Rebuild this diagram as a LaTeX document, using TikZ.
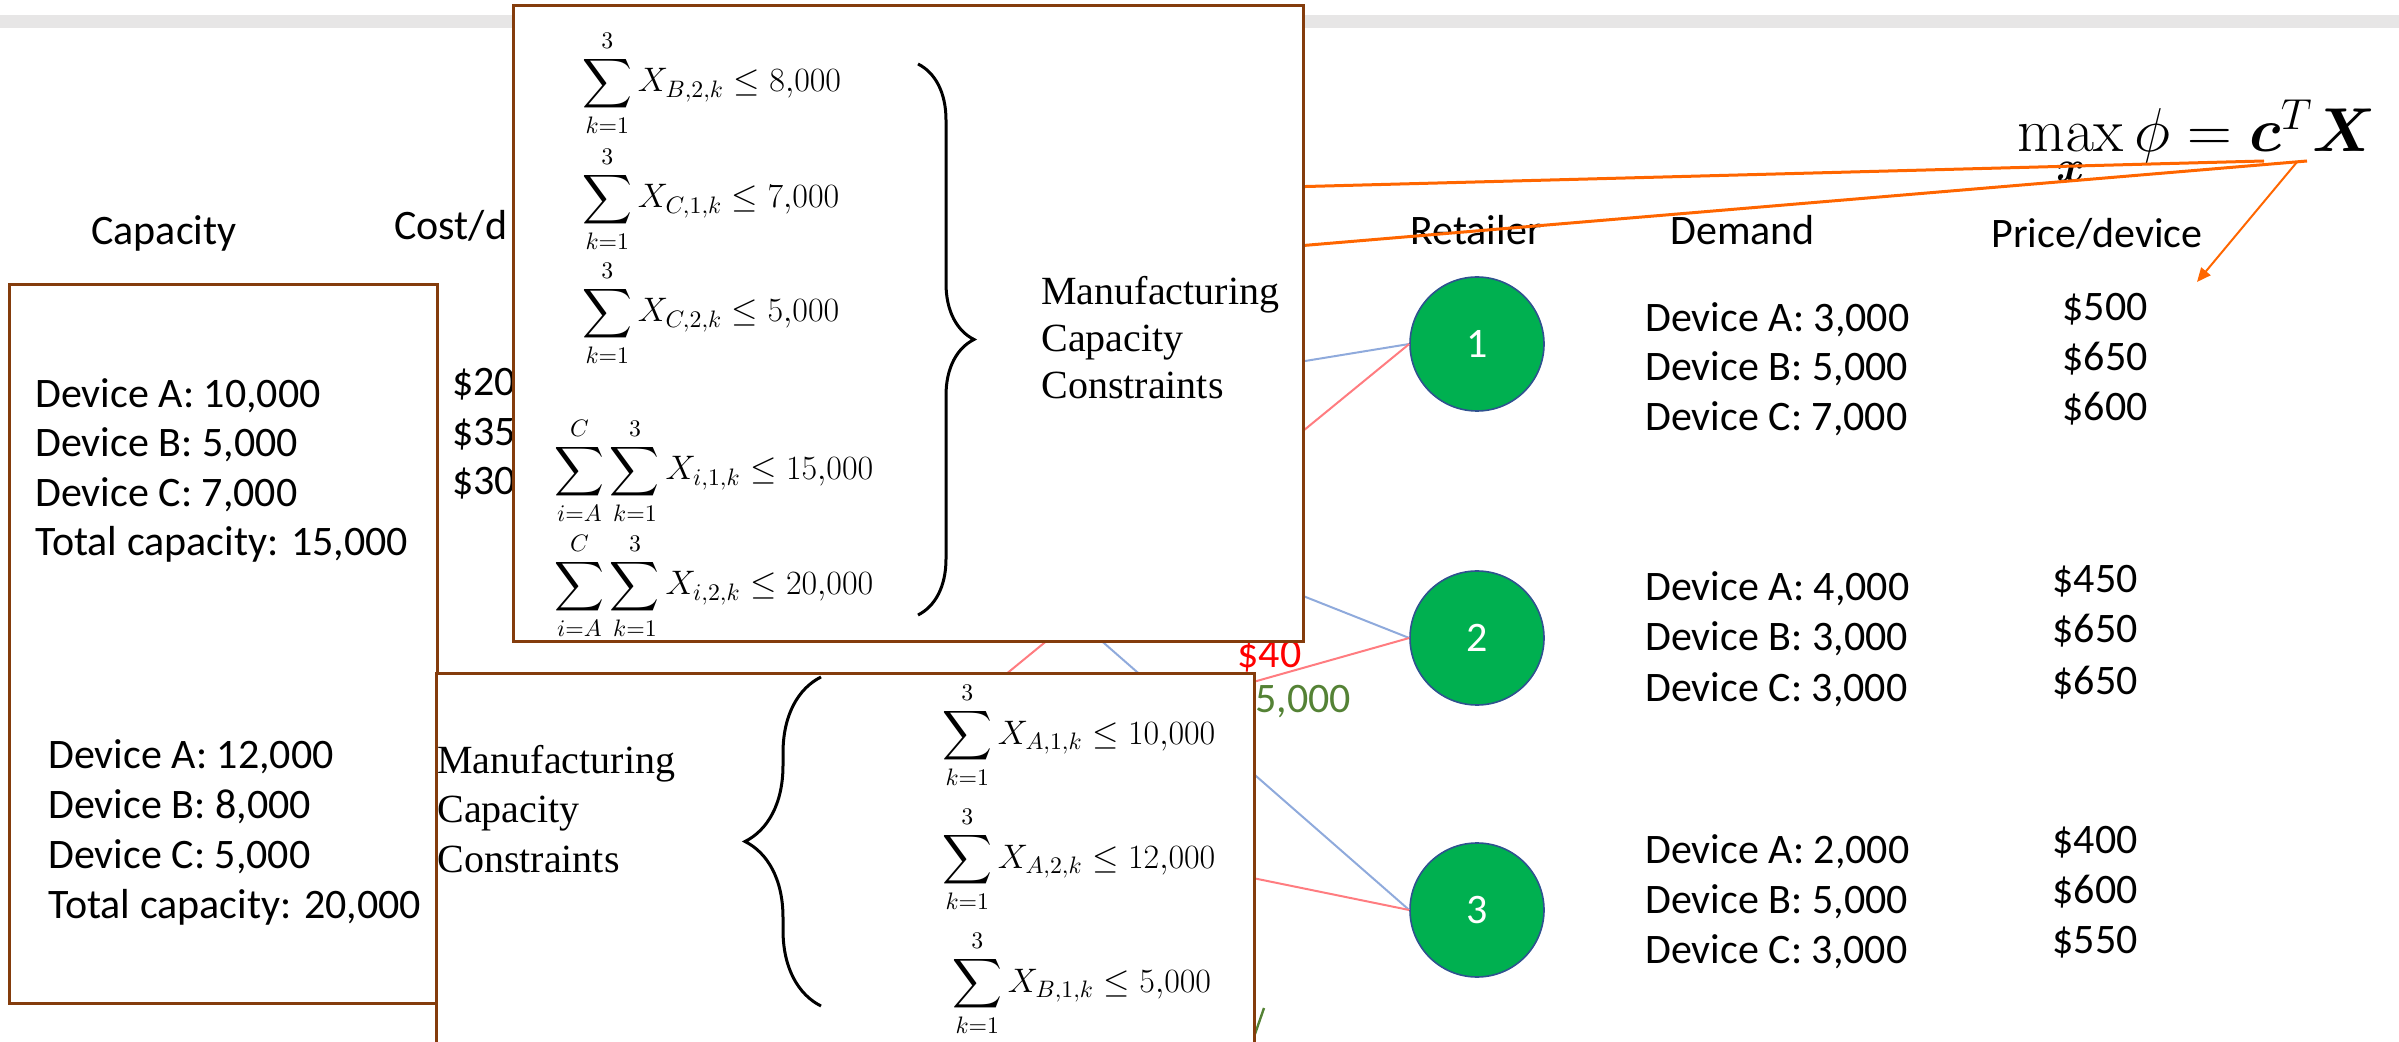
\documentclass[tikz,border=0pt]{standalone}
\usepackage{fix-cm}
\usepackage{amsmath,bm}
\usepackage[no-math]{fontspec}
\newfontfamily\calib{Carlito}
\newfontfamily\tnr{Liberation Serif}
\usetikzlibrary{arrows.meta,decorations.pathreplacing}
\definecolor{boxbrown}{HTML}{843C0C}
\definecolor{nodegreen}{HTML}{00B050}
\definecolor{nodeedge}{HTML}{2F528F}
\definecolor{flowblue}{HTML}{8FAADC}
\definecolor{flowred}{HTML}{FF7C80}
\definecolor{objorange}{HTML}{FF6600}
\definecolor{labgreen}{HTML}{548235}
\definecolor{bandgray}{HTML}{E7E6E6}

\begin{document}
\begin{tikzpicture}[
  x=0.5pt, y=-0.5pt,
  lab/.style={font=\calib\fontsize{21}{25}\selectfont, inner sep=0pt, anchor=base west},
  cons/.style={font=\fontsize{17}{20}\selectfont, inner sep=0pt, anchor=base west},
  serif/.style={font=\tnr\fontsize{20}{24}\selectfont, inner sep=0pt, anchor=base west},
  panel/.style={draw=boxbrown, line width=1.5pt, fill=white, inner sep=0pt,
                anchor=north west},
  retailer/.style={circle, fill=nodegreen, draw=nodeedge, line width=0.8pt,
                   minimum size=67pt, inner sep=0pt, text=white,
                   font=\calib\fontsize{21}{25}\selectfont},
  blueflow/.style={flowblue, line width=1pt},
  redflow/.style={flowred, line width=1pt},
  objline/.style={objorange, line width=1.5pt},
  curly/.style={decorate, decoration={brace, amplitude=#1}, line width=1.5pt}
]
  \useasboundingbox (0,0) rectangle (2399,1042);
  \clip (0,0) rectangle (2399,1042);
  \def\xdem{1645} \def\xprice{2062}
  \fill[bandgray] (0,15) rectangle (2399,28);

  % headers
  \node[lab] (hdrcap) at (91,245) {Capacity};
  \node[lab] (hdrcost) at (394,240) {Cost/d};
  \node[lab] (hdrret) at (1410,245) {Retailer};
  \node[lab] (hdrdem) at (1670,245) {Demand};
  \node[lab] (hdrprice) at (1991,248) {Price/device};

  % costs (mostly hidden)
  \node[lab] (costA) at (452,396) {\$20};
  \node[lab] (costB) at (452,446) {\$35};
  \node[lab] (costC) at (452,495) {\$30};

  % retailers
  \node[retailer] (n1) at (1477,344) {1};
  \node[retailer] (n2) at (1477,638) {2};
  \node[retailer] (n3) at (1477,910) {3};

  % flows from the plants
  \coordinate (b1) at (1250,370);
  \coordinate (r1) at (889,770);
  \coordinate (b2) at (1250,575);
  \coordinate (r2) at (1200,697);
  \coordinate (b3) at (1009,560);
  \coordinate (r3) at (1150,857);
  \draw[blueflow] (b1) -- (n1.west);
  \draw[redflow] (r1) -- (n1.west);
  \draw[blueflow] (b2) -- (n2.west);
  \draw[redflow] (r2) -- (n2.west);
  \draw[blueflow] (b3) -- (n3.west);
  \draw[redflow] (r3) -- (n3.west);
  \node[lab, text=red] (cost40) at (1237,668) {\$40};
  \node[lab, text=labgreen] (flow5) at (1255,712) {5,000};
  \draw[labgreen, line width=1.2pt] (1255,1034) -- (1264,1008);

  % demand and price, retailer 1
  \node[lab] (d1a) at (\xdem,332) {Device A: 3,000};
  \node[lab] (d1b) at (\xdem,381) {Device B: 5,000};
  \node[lab] (d1c) at (\xdem,431) {Device C: 7,000};
  \node[lab] (p1a) at (\xprice,321) {\$500};
  \node[lab] (p1b) at (\xprice,371) {\$650};
  \node[lab] (p1c) at (\xprice,421) {\$600};
  % retailer 2
  \node[lab] (d2a) at (\xdem,601) {Device A: 4,000};
  \node[lab] (d2b) at (\xdem,651) {Device B: 3,000};
  \node[lab] (d2c) at (\xdem,701) {Device C: 3,000};
  \node[lab] (p2a) at (\xprice-10,593) {\$450};
  \node[lab] (p2b) at (\xprice-10,643) {\$650};
  \node[lab] (p2c) at (\xprice-10,694) {\$650};
  % retailer 3
  \node[lab] (d3a) at (\xdem,863) {Device A: 2,000};
  \node[lab] (d3b) at (\xdem,913) {Device B: 5,000};
  \node[lab] (d3c) at (\xdem,963) {Device C: 3,000};
  \node[lab] (p3a) at (\xprice-10,853) {\$400};
  \node[lab] (p3b) at (\xprice-10,903) {\$600};
  \node[lab] (p3c) at (\xprice-10,953) {\$550};

  % objective
  \node[inner sep=0pt, anchor=base west, font=\fontsize{31}{36}\selectfont] (obj)
    at (2017,152) {$\max\limits_{\bm{x}}\phi=\bm{c}^{T}\bm{X}$};
  \coordinate (o1s) at (2264,161);
  \coordinate (o2s) at (2307,161);
  \coordinate (o3s) at (2297,162);
  \coordinate (o1e) at (1250,188);
  \coordinate (o2e) at (1250,250);
  \coordinate (pricetip) at (2197,282);
  \draw[objline] (o1s) -- (o1e);
  \draw[objline] (o2s) -- (o2e);
  \draw[objorange, line width=1pt, -{Triangle[length=7pt,width=6pt]}] (o3s) -- (pricetip);

  % plant capacities
  \node[panel, minimum width=214pt, minimum height=359.5pt] (capbox) at (8,283) {};
  \node[lab] (c1a) at (35,408) {Device A: 10,000};
  \node[lab] (c1b) at (35,457) {Device B: 5,000};
  \node[lab] (c1c) at (35,507) {Device C: 7,000};
  \node[lab] (c1t) at (35,556) {Total capacity: 15,000};
  \node[lab] (c2a) at (48,768) {Device A: 12,000};
  \node[lab] (c2b) at (48,818) {Device B: 8,000};
  \node[lab] (c2c) at (48,868) {Device C: 5,000};
  \node[lab] (c2t) at (48,918) {Total capacity: 20,000};

  % constraints, upper panel
  \node[panel, minimum width=395pt, minimum height=318pt] (consup) at (512,4) {};
  \node[cons] (kB2) at (582,92) {$\displaystyle\sum_{k=1}^{3} X_{B,2,k} \le 8{,}000$};
  \node[cons] (kC1) at (582,208) {$\displaystyle\sum_{k=1}^{3} X_{C,1,k} \le 7{,}000$};
  \node[cons] (kC2) at (582,322) {$\displaystyle\sum_{k=1}^{3} X_{C,2,k} \le 5{,}000$};
  \node[cons] (tot1) at (554,480) {$\displaystyle\sum_{i=A}^{C}\sum_{k=1}^{3} X_{i,1,k} \le 15{,}000$};
  \node[cons] (tot2) at (554,595) {$\displaystyle\sum_{i=A}^{C}\sum_{k=1}^{3} X_{i,2,k} \le 20{,}000$};
  \draw[curly=28pt] (918,64) -- (918,615);
  \node[serif] (mcu1) at (1041,305) {Manufacturing};
  \node[serif] (mcu2) at (1041,352) {Capacity};
  \node[serif] (mcu3) at (1041,399) {Constraints};

  % constraints, lower panel
  \node[panel, minimum width=409pt, minimum height=199pt] (conslow) at (435,672) {};
  \node[serif] (mcl1) at (437,773) {Manufacturing};
  \node[serif] (mcl2) at (437,822) {Capacity};
  \node[serif] (mcl3) at (437,872) {Constraints};
  \draw[curly=38pt] (821,1006) -- (821,677);
  \node[cons] (kA1) at (942,744) {$\displaystyle\sum_{k=1}^{3} X_{A,1,k} \le 10{,}000$};
  \node[cons] (kA2) at (942,868) {$\displaystyle\sum_{k=1}^{3} X_{A,2,k} \le 12{,}000$};
  \node[cons] (kB1) at (952,992) {$\displaystyle\sum_{k=1}^{3} X_{B,1,k} \le 5{,}000$};
\end{tikzpicture}
\end{document}
